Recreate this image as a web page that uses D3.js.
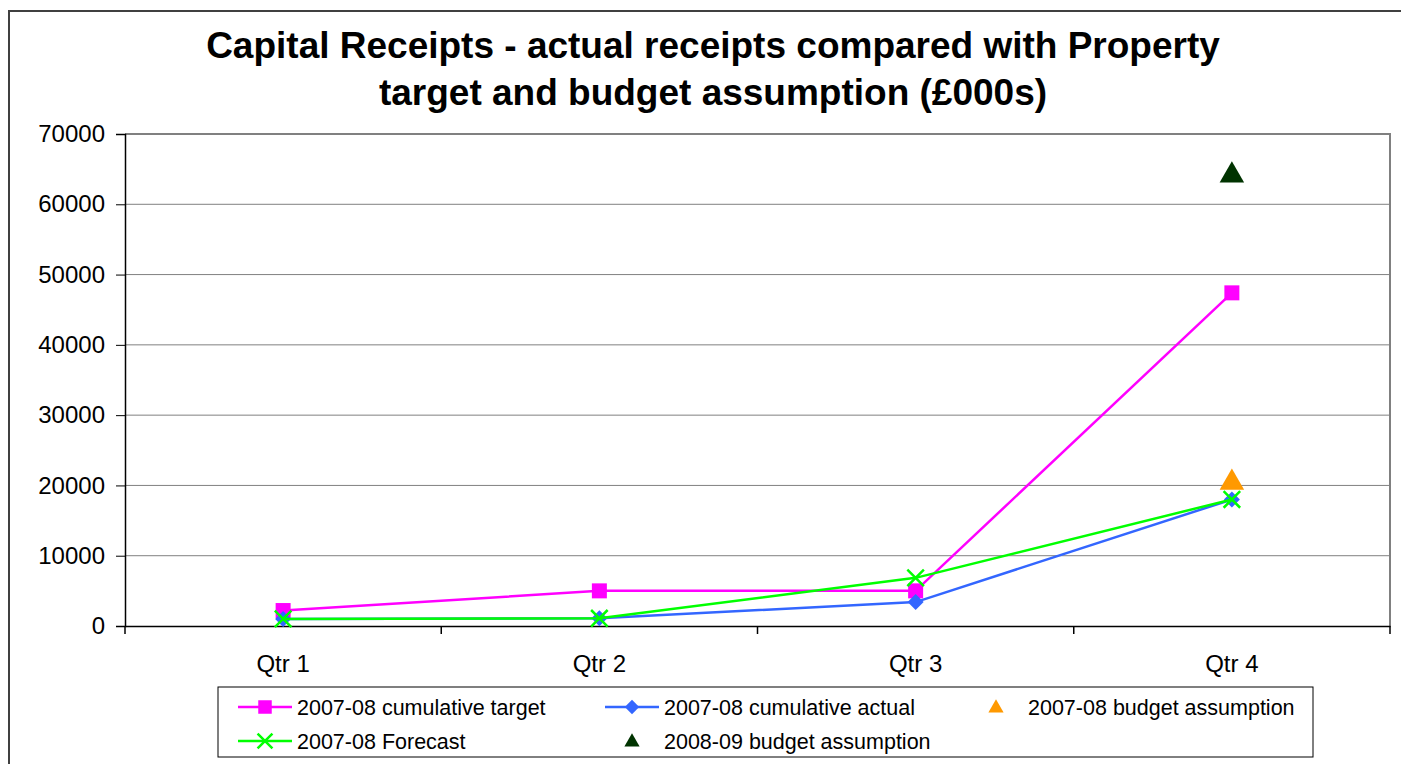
<!DOCTYPE html>
<html>
  <head>
    <style>
      body { margin: 0; background: #fff; }
      text { font-family: 'Liberation Sans', Arial, sans-serif; }
    </style>
  </head>

  <body>

    <svg class="surface" width="1401" height="764"></svg>

    <script src="https://cdn.jsdelivr.net/npm/d3@7/dist/d3.min.js" charset="utf-8"></script>
    <script>

      const quarters = ['Qtr 1', 'Qtr 2', 'Qtr 3', 'Qtr 4']
      const target = [2200, 5000, 5000, 47400]
      const actual = [1000, 1100, 3400, 18000]
      const forecast = [1000, 1100, 6850, 18000]
      const budget0708 = [null, null, null, 20400]
      const budget0809 = [null, null, null, 64100]
      const yTicks = [0, 10000, 20000, 30000, 40000, 50000, 60000, 70000]

      const svg = d3.select('.surface')

      // outer chart frame
      svg.append('rect')
        .attr('x', 9).attr('y', 11).attr('width', 1420).attr('height', 800)
        .attr('fill', 'none').attr('stroke', '#404040').attr('stroke-width', 2)

      const title = svg.append('text')
        .attr('text-anchor', 'middle')
        .attr('font-weight', 'bold').attr('font-size', 37)
      title.append('tspan').attr('x', 713).attr('y', 58).text('Capital Receipts - actual receipts compared with Property')
      title.append('tspan').attr('x', 713).attr('y', 105).text('target and budget assumption (£000s)')

      const plotL = 125, plotR = 1390, plotT = 134, plotB = 626

      const x = d3.scaleBand().domain(quarters).range([plotL, plotR])
      const y = d3.scaleLinear().domain([0, 70000]).range([plotB, plotT])
      const cx = d => x(d) + x.bandwidth() / 2

      // gridlines
      svg.append('g').selectAll('line').data(yTicks.slice(1))
        .enter().append('line')
        .attr('x1', plotL).attr('x2', plotR)
        .attr('y1', d => y(d)).attr('y2', d => y(d))
        .attr('stroke', '#808080').attr('stroke-width', 1)

      // plot border
      svg.append('path')
        .attr('d', `M${plotL},${plotT}H${plotR}V${plotB}`)
        .attr('fill', 'none').attr('stroke', '#808080').attr('stroke-width', 2)

      // y axis
      const yAxis = svg.append('g')
        .attr('transform', `translate(${plotL},0)`)
        .call(d3.axisLeft(y).tickValues(yTicks).tickSize(9).tickPadding(11).tickFormat(d3.format('d')))
      yAxis.select('.domain').attr('stroke', '#000').attr('stroke-width', 1.5)
      yAxis.selectAll('.tick line').attr('stroke', '#000')
      yAxis.selectAll('text').attr('font-size', 24).attr('fill', '#000')
        .style('font-family', "'Liberation Sans', Arial, sans-serif")

      // x axis
      const xAxis = svg.append('g')
        .attr('transform', `translate(0,${plotB})`)
        .call(d3.axisBottom(x).tickSize(0).tickPadding(29))
      xAxis.select('.domain').attr('stroke', '#000').attr('stroke-width', 1.5)
      xAxis.selectAll('text').attr('font-size', 24).attr('fill', '#000')
        .style('font-family', "'Liberation Sans', Arial, sans-serif")
      xAxis.selectAll('line.sep').data(quarters.concat(['end']))
        .enter().append('line').attr('class', 'sep')
        .attr('x1', (d, i) => plotL + i * x.bandwidth())
        .attr('x2', (d, i) => plotL + i * x.bandwidth())
        .attr('y1', 0).attr('y2', 8)
        .attr('stroke', '#000').attr('stroke-width', 1.5)

      const sym = {
        square: d3.symbol().type(d3.symbolSquare).size(225),
        diamond: () => 'M0,-8L8,0L0,8L-8,0Z',
        cross: d3.symbol().type(d3.symbolX).size(180),
        triangle: d3.symbol().type(d3.symbolTriangle).size(260)
      }

      const series = [
        { name: '2007-08 cumulative target', values: target, color: '#ff00ff', marker: 'square', line: true },
        { name: '2007-08 cumulative actual', values: actual, color: '#3366ff', marker: 'diamond', line: true },
        { name: '2007-08 budget assumption', values: budget0708, color: '#ff9900', marker: 'triangle', line: false },
        { name: '2007-08 Forecast', values: forecast, color: '#00ff00', marker: 'cross', line: true },
        { name: '2008-09 budget assumption', values: budget0809, color: '#003300', marker: 'triangle', line: false }
      ]

      function drawMarker(g, s, px, py, scale) {
        const p = g.append('path')
          .attr('d', sym[s.marker]())
          .attr('transform', `translate(${px},${py}) scale(${scale || 1})`)
        if (s.marker === 'cross') {
          p.attr('fill', 'none').attr('stroke', s.color).attr('stroke-width', 2.5 / (scale || 1))
        } else {
          p.attr('fill', s.color)
        }
      }

      const drawOrder = [0, 1, 3, 2, 4]
      const line = d3.line()
        .defined(d => d.v != null)
        .x(d => cx(d.q)).y(d => y(d.v))

      drawOrder.forEach(k => {
        const s = series[k]
        const pts = quarters.map((q, i) => ({ q, v: s.values[i] }))
        const g = svg.append('g')
        if (s.line) {
          g.append('path').datum(pts)
            .attr('d', line)
            .attr('fill', 'none').attr('stroke', s.color).attr('stroke-width', 2.5)
        }
        pts.filter(d => d.v != null).forEach(d => drawMarker(g, s, cx(d.q), y(d.v)))
      })

      // legend
      const legend = svg.append('g')
      legend.append('rect')
        .attr('x', 218).attr('y', 687).attr('width', 1095).attr('height', 70)
        .attr('fill', '#fff').attr('stroke', '#000').attr('stroke-width', 1)

      const legendPos = [
        { x: 238, y: 707 }, { x: 605, y: 707 }, { x: 969, y: 707 },
        { x: 238, y: 741 }, { x: 605, y: 741 }
      ]
      series.forEach((s, i) => {
        const p = legendPos[i]
        const g = legend.append('g')
        if (s.line) {
          g.append('line')
            .attr('x1', p.x).attr('x2', p.x + 54).attr('y1', p.y).attr('y2', p.y)
            .attr('stroke', s.color).attr('stroke-width', 2.5)
          drawMarker(g, s, p.x + 27, p.y, 0.9)
        } else {
          drawMarker(g, s, p.x + 27, p.y + 1, 0.62)
        }
        g.append('text').attr('x', p.x + 59).attr('y', p.y + 8)
          .attr('font-size', 21.5).text(s.name)
      })

    </script>
  </body>

</html>
